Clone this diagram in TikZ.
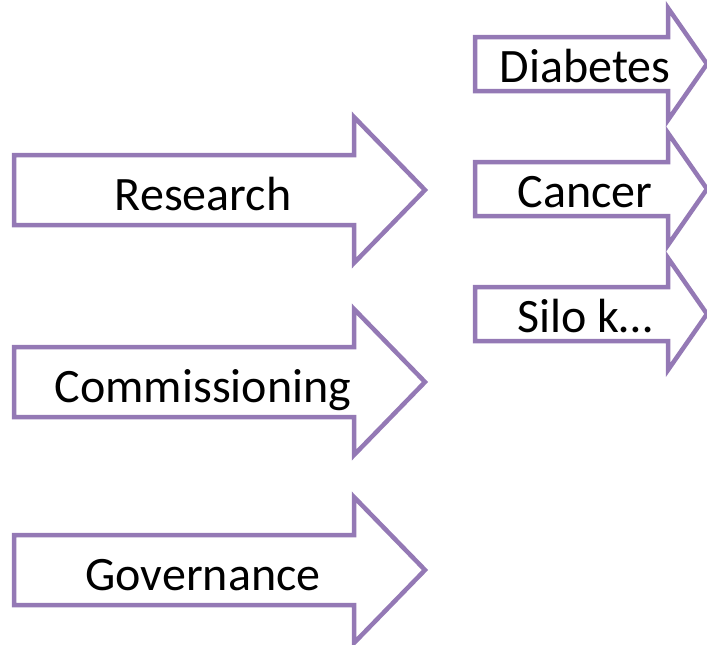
\documentclass[tikz,border=0pt]{standalone}
\usepackage{fontspec}
\setmainfont{Carlito}
\usepackage{tikz}
\definecolor{arrowpurple}{RGB}{148,121,181}
\tikzset{
  arrowline/.style={line width=4.5pt,color=arrowpurple,fill=white,line join=miter},
  arrowtext/.style={anchor=base,font=\fontsize{48}{58}\selectfont,text=black,inner sep=0pt}
}
\begin{document}
\begin{tikzpicture}[line cap=butt,x=1pt,y=-1pt]
\useasboundingbox (0,0) rectangle (707,645);
% big arrows
\draw [arrowline] (14,155)-- (354,155)-- (354,117)-- (425,190)-- (354,263)-- (354,225)-- (14,225)-- cycle;
\draw [arrowline] (14,347)-- (354,347)-- (354,309)-- (425,382)-- (354,455)-- (354,417)-- (14,417)-- cycle;
\draw [arrowline] (14,535)-- (354,535)-- (354,497)-- (425,570)-- (354,643)-- (354,605)-- (14,605)-- cycle;
% small arrows
\draw [arrowline] (475,37)-- (668,37)-- (668,8)-- (707,64)-- (668,120)-- (668,91)-- (475,91)-- cycle;
\draw [arrowline] (475,162)-- (668,162)-- (668,133)-- (707,189)-- (668,245)-- (668,216)-- (475,216)-- cycle;
\draw [arrowline] (475,287)-- (668,287)-- (668,258)-- (707,314)-- (668,370)-- (668,341)-- (475,341)-- cycle;
% labels
\node [arrowtext] (research) at (203,210) {Research};
\node [arrowtext] (commissioning) at (203,402) {Commissioning};
\node [arrowtext] (governance) at (203,590) {Governance};
\node [arrowtext] (diabetes) at (585,82) {Diabetes};
\node [arrowtext] (cancer) at (585,207) {Cancer};
\node [arrowtext] (silo) at (585,332) {Silo k…};
\end{tikzpicture}
\end{document}
